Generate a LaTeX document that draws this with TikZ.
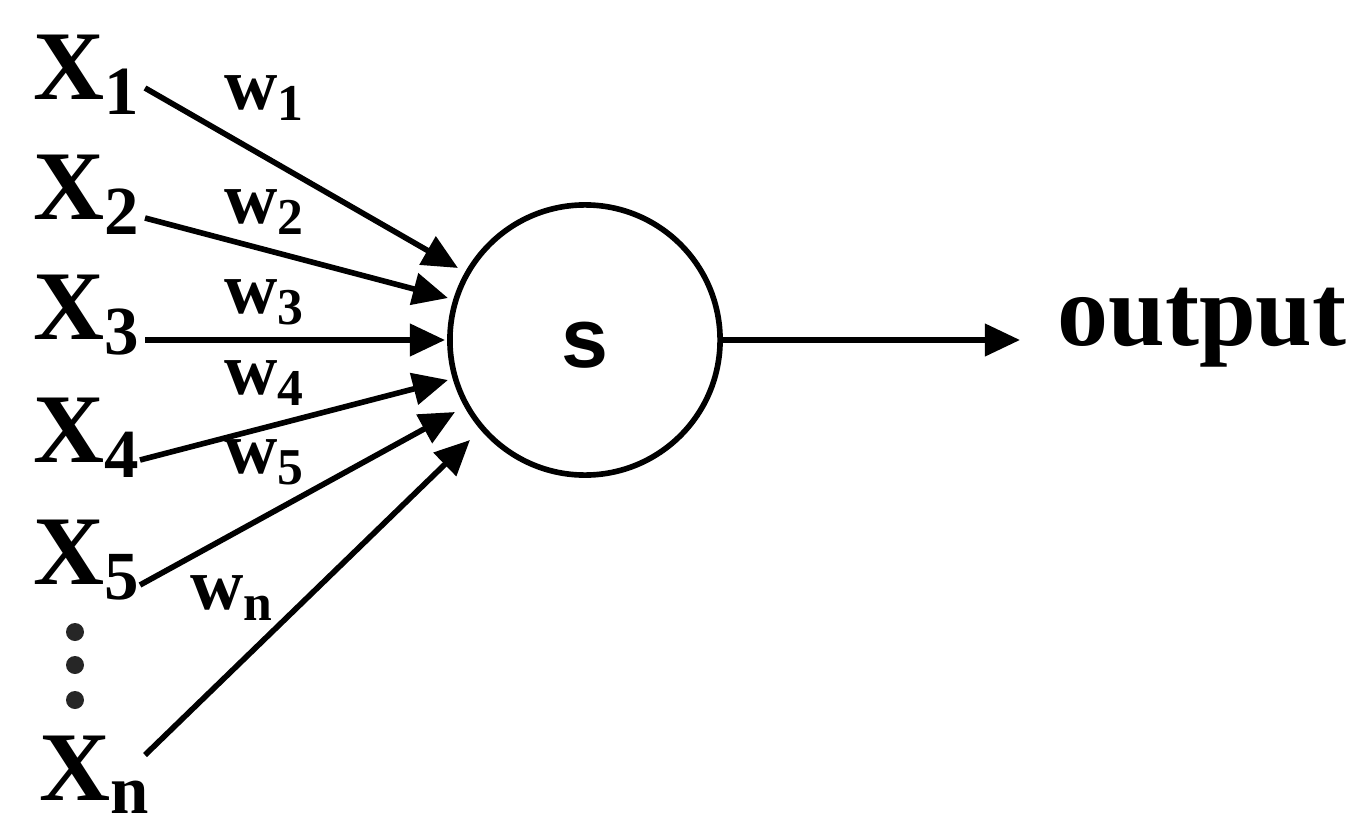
\documentclass[tikz,border=0pt]{standalone}
\usepackage{fontspec}
\setmainfont{Liberation Serif}
\newfontfamily\sansf{Liberation Sans}
\usetikzlibrary{arrows.meta}
\begin{document}
\begin{tikzpicture}[x=0.01cm,y=-0.01cm,
  xl/.style={font=\fontsize{28}{30}\selectfont\bfseries,inner sep=0pt},
  wl/.style={font=\fontsize{21}{23}\selectfont\bfseries,inner sep=0pt},
  arr/.style={line width=1.6pt,-{Triangle[length=10pt,width=9pt]}}]
\useasboundingbox (0,0) rectangle (1371,837);
\node[circle,draw,line width=1.6pt,minimum size=2.7cm] (s) at (585,340) {};
\node[font=\fontsize{24}{26}\selectfont\sansf\bfseries] at (585,345) {s};
\node[font=\fontsize{29}{31}\selectfont\bfseries,inner sep=0pt] (out) at (1202,328) {output};
\coordinate (o1) at (722,340); \coordinate (o2) at (1020,340);
\draw[arr] (o1) -- (o2);
\node[xl] (x1) at (87,75) {X$_{\mathbf 1}$};
\node[xl] (x2) at (87,195) {X$_{\mathbf 2}$};
\node[xl] (x3) at (87,315) {X$_{\mathbf 3}$};
\node[xl] (x4) at (87,438) {X$_{\mathbf 4}$};
\node[xl] (x5) at (87,560) {X$_{\mathbf 5}$};
\node[xl] (xn) at (95,775) {X$_{\mathbf n}$};
\foreach \y in {632,665,700} \fill[black!85] (75,\y) circle (9);
\coordinate (a1) at (145,88); \coordinate (b1) at (458,268);
\coordinate (a2) at (145,218); \coordinate (b2) at (448,298);
\coordinate (a3) at (145,340); \coordinate (b3) at (445,340);
\coordinate (a4) at (140,460); \coordinate (b4) at (448,380);
\coordinate (a5) at (140,585); \coordinate (b5) at (455,412);
\coordinate (an) at (145,755); \coordinate (bn) at (470,440);
\foreach \i in {1,2,3,4,5,n} \draw[arr] (a\i) -- (b\i);
\node[wl] (w1) at (265,98) {w$_{\mathbf 1}$};
\node[wl] (w2) at (265,212) {w$_{\mathbf 2}$};
\node[wl] (w3) at (265,302) {w$_{\mathbf 3}$};
\node[wl] (w4) at (265,383) {w$_{\mathbf 4}$};
\node[wl] (w5) at (265,462) {w$_{\mathbf 5}$};
\node[wl] (wn) at (232,598) {w$_{\mathbf n}$};
\end{tikzpicture}
\end{document}
